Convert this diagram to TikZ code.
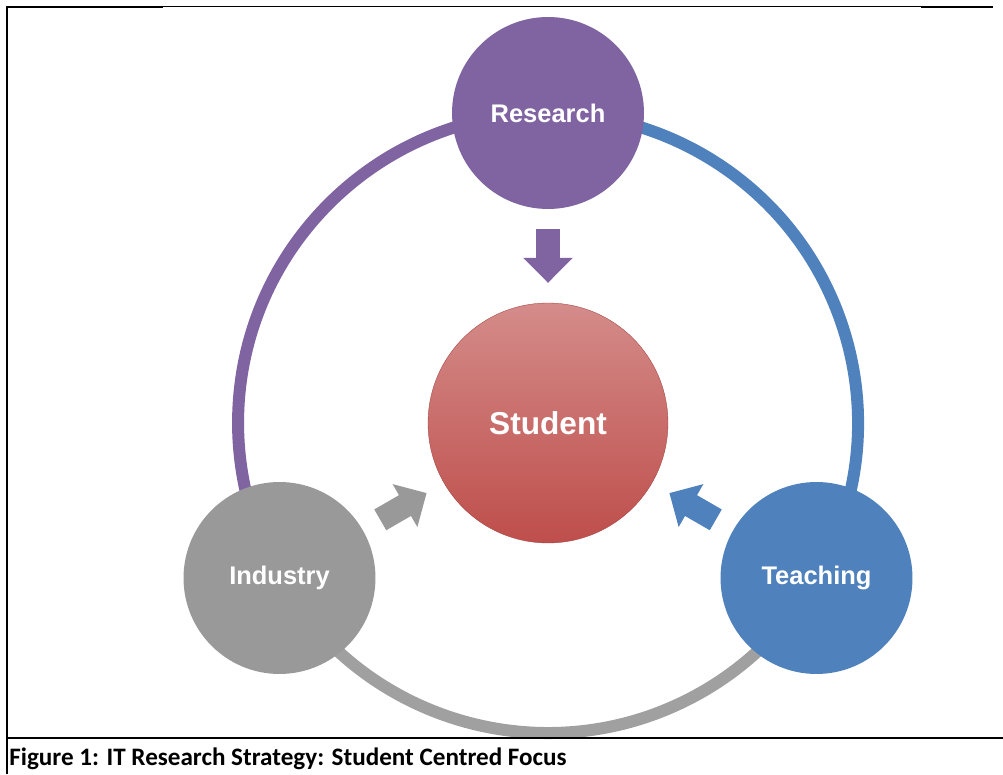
\documentclass[tikz,border=0pt]{standalone}
\usepackage{fontspec}
\usepackage{tikz}
\usetikzlibrary{arrows.meta, backgrounds}
\newfontfamily\labelFont{Liberation Sans}
\newfontfamily\captionFont{Carlito}
\definecolor{researchColor}{RGB}{128, 100, 162}
\definecolor{teachingColor}{RGB}{79, 129, 189}
\definecolor{industryColor}{RGB}{153, 153, 153}
\definecolor{ringGray}{RGB}{160, 160, 160}
\definecolor{studentTop}{RGB}{212, 140, 138}
\definecolor{studentBottom}{RGB}{190, 78, 75}
\tikzset{
    hub_node/.style={
        circle,
        minimum size=3.84cm,
        inner sep=0pt,
        text=white,
        font=\labelFont\bfseries\fontsize{14.5}{17}\selectfont
    },
    core_node/.style={
        circle,
        minimum size=4.8cm,
        inner sep=0pt,
        top color=studentTop,
        bottom color=studentBottom,
        draw=studentBottom!85!black,
        very thin,
        text=white,
        font=\labelFont\bfseries\fontsize{18}{21}\selectfont
    },
    ring_arc/.style={
        line width=0.24cm
    },
    push_arrow/.style={
        line width=0.48cm,
        -{Triangle[length=0.5cm, width=0.96cm]},
        shorten <=0.4cm,
        shorten >=0.4cm
    },
    frame_line/.style={
        draw=black,
        line width=1.5pt
    }
}
\begin{document}
\begin{tikzpicture}[x=0.02cm, y=0.02cm]
    \useasboundingbox (0,0) rectangle (1003,774);

    % the four circles
    \node[core_node] (student) at (548,351) {Student};
    \node[hub_node, fill=researchColor] (research) at (548,661) {Research};
    \node[hub_node, fill=industryColor] (industry) at (279.5,196) {Industry};
    \node[hub_node, fill=teachingColor] (teaching) at (816.5,196) {Teaching};

    % ring behind the circles
    \begin{scope}[on background layer]
        \fill[white] (0,0) rectangle (1003,774);
        \draw[ring_arc, draw=researchColor] (research.center)
            arc[start angle=90, end angle=210, radius=6.2cm];
        \draw[ring_arc, draw=teachingColor] (teaching.center)
            arc[start angle=-30, end angle=90, radius=6.2cm];
        \draw[ring_arc, draw=ringGray] (industry.center)
            arc[start angle=210, end angle=330, radius=6.2cm];
    \end{scope}

    % block arrows into the centre
    \draw[push_arrow, draw=researchColor, fill=researchColor] (research) -- (student);
    \draw[push_arrow, draw=industryColor, fill=industryColor] (industry) -- (student);
    \draw[push_arrow, draw=teachingColor, fill=teachingColor] (teaching) -- (student);

    % frame and caption
    \draw[frame_line] (6,767) -- (163,767);
    \draw[frame_line, line width=0.6pt] (163,767.5) -- (921,767.5);
    \draw[frame_line] (921,767) -- (993,767);
    \draw[frame_line, line width=1.1pt] (7,767.5) -- (7,0);
    \draw[frame_line, line width=0.9pt] (7,36) -- (1003,36);
    \node[anchor=base west, inner sep=0pt,
          font=\captionFont\bfseries\fontsize{14.3}{16}\selectfont]
        (caption) at (9,9) {Figure 1: IT Research Strategy: Student Centred Focus};
\end{tikzpicture}
\end{document}
